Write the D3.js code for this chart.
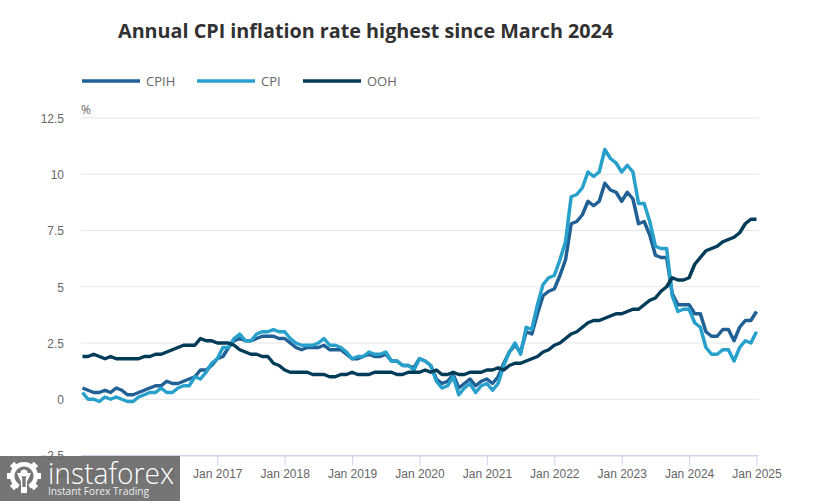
<!DOCTYPE html>
<html>
<head>
<meta charset="utf-8">
<script src="https://cdn.jsdelivr.net/npm/d3@7"></script>
<style>
	html, body { margin: 0; padding: 0; background: #fff; }
	svg { display: block; font-family: "Open Sans", sans-serif; }
	.tick text { fill: #666; font-size: 12px; }
	.y-axis .domain, .y-axis .tick line { display: none; }
	.x-axis .domain, .x-axis .tick line { stroke: #ccd6eb; }
</style>
</head>
<body>
<svg id="chart" width="822" height="501"></svg>
<script>
const title = "Annual CPI inflation rate highest since March 2024";
const series_names = ["CPIH", "CPI", "OOH"];
const series_colors = ["#206095", "#27a0cc", "#003c57"];
const y_ticks = [-2.5, 0, 2.5, 5, 7.5, 10, 12.5];
const x_tick_years = [2015, 2016, 2017, 2018, 2019, 2020, 2021, 2022, 2023, 2024, 2025];

// monthly values, Jan 2015 to Jan 2025
const cpih = [
	0.5,0.4,0.3,0.3,0.4,0.3,0.5,0.4,0.2,0.2,0.3,0.4,
	0.5,0.6,0.6,0.8,0.7,0.7,0.8,0.9,1.0,1.3,1.3,1.5,
	1.8,1.9,2.3,2.6,2.7,2.6,2.6,2.7,2.8,2.8,2.8,2.7,
	2.7,2.5,2.3,2.2,2.3,2.3,2.3,2.4,2.2,2.2,2.2,2.0,
	1.8,1.8,1.9,2.0,1.9,1.9,2.0,1.7,1.7,1.5,1.5,1.4,
	1.8,1.7,1.5,0.9,0.7,0.8,1.1,0.5,0.7,0.9,0.6,0.8,
	0.9,0.7,1.0,1.6,2.1,2.4,2.1,3.0,2.9,3.8,4.6,4.8,
	4.9,5.5,6.2,7.8,7.9,8.2,8.8,8.6,8.8,9.6,9.3,9.2,
	8.8,9.2,8.9,7.8,7.9,7.3,6.4,6.3,6.3,4.7,4.2,4.2,
	4.2,3.8,3.8,3.0,2.8,2.8,3.1,3.1,2.6,3.2,3.5,3.5,
	3.9
];
const cpi = [
	0.3,0.0,0.0,-0.1,0.1,0.0,0.1,0.0,-0.1,-0.1,0.1,0.2,
	0.3,0.3,0.5,0.3,0.3,0.5,0.6,0.6,1.0,0.9,1.2,1.6,
	1.8,2.3,2.3,2.7,2.9,2.6,2.6,2.9,3.0,3.0,3.1,3.0,
	3.0,2.7,2.5,2.4,2.4,2.4,2.5,2.7,2.4,2.4,2.3,2.1,
	1.8,1.9,1.9,2.1,2.0,2.0,2.1,1.7,1.7,1.5,1.5,1.3,
	1.8,1.7,1.5,0.8,0.5,0.6,1.0,0.2,0.5,0.7,0.3,0.6,
	0.7,0.4,0.7,1.5,2.1,2.5,2.0,3.2,3.1,4.2,5.1,5.4,
	5.5,6.2,7.0,9.0,9.1,9.4,10.1,9.9,10.1,11.1,10.7,10.5,
	10.1,10.4,10.1,8.7,8.7,7.9,6.8,6.7,6.7,4.6,3.9,4.0,
	4.0,3.4,3.2,2.3,2.0,2.0,2.2,2.2,1.7,2.3,2.6,2.5,
	3.0
];
const ooh = [
	1.9,1.9,2.0,1.9,1.8,1.9,1.8,1.8,1.8,1.8,1.8,1.9,
	1.9,2.0,2.0,2.1,2.2,2.3,2.4,2.4,2.4,2.7,2.6,2.6,
	2.5,2.5,2.5,2.4,2.2,2.1,2.0,2.0,1.9,1.9,1.6,1.5,
	1.3,1.2,1.2,1.2,1.2,1.1,1.1,1.1,1.0,1.0,1.1,1.1,
	1.2,1.1,1.1,1.1,1.2,1.2,1.2,1.2,1.1,1.1,1.2,1.2,
	1.2,1.3,1.2,1.3,1.1,1.1,1.2,1.1,1.1,1.2,1.2,1.2,
	1.3,1.3,1.4,1.3,1.5,1.6,1.6,1.7,1.8,1.9,2.1,2.2,
	2.4,2.5,2.7,2.9,3.0,3.2,3.4,3.5,3.5,3.6,3.7,3.8,
	3.8,3.9,4.0,4.0,4.2,4.4,4.5,4.8,5.0,5.4,5.3,5.3,
	5.4,6.0,6.3,6.6,6.7,6.8,7.0,7.1,7.2,7.4,7.8,8.0,
	8.0
];
const series_values = [cpih, cpi, ooh];

const svg = d3.select("#chart");

const x = d3.scaleLinear().domain([0, 120]).range([82.5, 756.5]);
const y = d3.scaleLinear().domain([-2.5, 12.5]).range([455.5, 118]);

svg.append("text")
	.attr("x", 118).attr("y", 38)
	.attr("font-size", 19.76).attr("font-weight", 700).attr("fill", "#323132")
	.text(title);

// gridlines
svg.append("g").selectAll("line")
	.data(y_ticks.filter(d => d > -2.5))
	.enter().append("line")
	.attr("x1", 81).attr("x2", 759)
	.attr("y1", d => y(d)).attr("y2", d => y(d))
	.attr("stroke", "#e6e6e6");

// axes
svg.append("g")
	.attr("class", "y-axis")
	.attr("transform", "translate(64,0.5)")
	.call(d3.axisLeft(y).tickValues(y_ticks).tickFormat(d3.format("~r")).tickSize(0).tickPadding(0));

svg.append("g")
	.attr("class", "x-axis")
	.attr("transform", "translate(0,455.5)")
	.call(d3.axisBottom(x)
		.tickValues(x_tick_years.map(yr => (yr - 2015) * 12))
		.tickFormat(d => "Jan " + (2015 + d / 12))
		.tickSize(10).tickSizeOuter(0).tickPadding(4));
svg.select(".x-axis").append("line")
	.attr("x1", 81).attr("x2", 759)
	.attr("stroke", "#ccd6eb");

svg.append("text")
	.attr("x", 81).attr("y", 114)
	.attr("font-size", 12).attr("fill", "#666")
	.text("%");

// lines, CPIH first so the others sit over it
const line = d3.line().x((d, i) => x(i)).y(d => y(d)).curve(d3.curveLinear);
svg.append("g").selectAll("path")
	.data(series_values)
	.enter().append("path")
	.attr("d", line)
	.attr("fill", "none")
	.attr("stroke", (d, i) => series_colors[i])
	.attr("stroke-width", 3.5)
	.attr("stroke-linejoin", "round");

// legend
const legend_x = d3.scaleOrdinal().domain(series_names).range([82, 197, 303]);
const legend = svg.append("g").selectAll("g")
	.data(series_names)
	.enter().append("g")
	.attr("transform", d => "translate(" + legend_x(d) + ",81)");
legend.append("line")
	.attr("x1", 0).attr("x2", 58)
	.attr("stroke", (d, i) => series_colors[i])
	.attr("stroke-width", 3.5);
legend.append("text")
	.attr("x", 64).attr("y", 5)
	.attr("font-size", 13).attr("fill", "#666")
	.text(d => d);

// watermark
const wm = svg.append("g");
wm.append("rect")
	.attr("x", 0).attr("y", 456).attr("width", 180).attr("height", 45)
	.attr("fill", "#666").attr("opacity", 0.9);

// gear logo
const logo = wm.append("g")
	.attr("transform", "translate(24,476)")
	.attr("fill", "#fff");
logo.selectAll("rect")
	.data(d3.range(1, 8))
	.enter().append("rect")
	.attr("x", -3).attr("y", -17).attr("width", 6).attr("height", 6)
	.attr("transform", d => "rotate(" + (d * 45) + ")");
logo.append("path")
	.attr("d", d3.arc().innerRadius(9.5).outerRadius(14).startAngle(Math.PI * 1.15).endAngle(Math.PI * 2.85)());
logo.append("circle").attr("cy", -3).attr("r", 3.5);
logo.append("path")
	.attr("d", "M-7,-3 L-3,-3 L-1.6,3 L-1.6,14 L1.6,14 L1.6,3 L3,-3 L7,-3 L3,6 L3,15 L-3,15 L-3,6 Z");

wm.append("text")
	.attr("x", 48).attr("y", 484)
	.attr("font-size", 30).attr("font-weight", 300).attr("fill", "#fff")
	.attr("textLength", 126).attr("lengthAdjust", "spacingAndGlyphs")
	.text("instaforex");
wm.append("text")
	.attr("x", 48).attr("y", 495)
	.attr("font-size", 11).attr("fill", "#eee")
	.attr("textLength", 101).attr("lengthAdjust", "spacingAndGlyphs")
	.text("Instant Forex Trading");
</script>
</body>
</html>
